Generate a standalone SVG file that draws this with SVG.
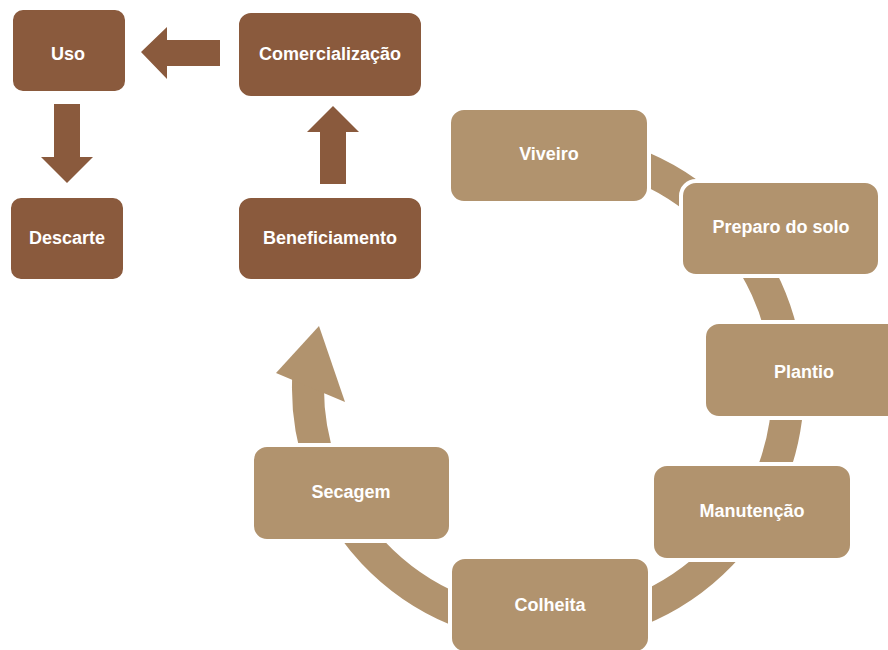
<svg xmlns="http://www.w3.org/2000/svg" width="888" height="650" viewBox="0 0 888 650">
<style>
.b{fill:#8A5A3D;stroke:#fff;stroke-width:2}
.t{fill:#B1936E;stroke:#fff;stroke-width:4}
.ba{fill:#8A5A3D}
.ta{fill:#B1936E}
text{font-family:"Liberation Sans",Arial,sans-serif;font-weight:bold;font-size:18px;fill:#fff;text-anchor:middle}
</style>
<rect width="888" height="650" fill="#fff"/>
<g id="connectors">
<path d="M527.1,148.9 A240,240 0 1 1 308.3,375.4" fill="none" stroke="#B1936E" stroke-width="32"/>
<polygon class="ta" points="276,373 319,326 345,402"/>
<polygon class="ba" points="220,40 167,40 167,27 141,52 167,79 167,66 220,66"/>
<polygon class="ba" points="54,104 80,104 80,157 93,157 67,183 41,157 54,157"/>
<polygon class="ba" points="320,184 346,184 346,132 359,132 333,106 307,132 320,132"/>
</g>
<g id="uso"><rect class="b" x="12" y="9" width="114" height="83" rx="11"/><text x="68" y="60">Uso</text></g>
<g id="comercializacao"><rect class="b" x="238" y="12" width="184" height="85" rx="13"/><text x="330" y="60">Comercialização</text></g>
<g id="descarte"><rect class="b" x="10" y="197" width="114" height="83" rx="11"/><text x="67" y="244">Descarte</text></g>
<g id="beneficiamento"><rect class="b" x="238" y="197" width="184" height="83" rx="13"/><text x="330" y="244">Beneficiamento</text></g>
<g id="viveiro"><rect class="t" x="449" y="108" width="200" height="95" rx="15"/><text x="549" y="160">Viveiro</text></g>
<g id="preparo"><rect class="t" x="681" y="181" width="199" height="95" rx="15"/><text x="781" y="233">Preparo do solo</text></g>
<g id="plantio"><rect class="t" x="704" y="322" width="200" height="96" rx="15"/><text x="804" y="378">Plantio</text></g>
<g id="manutencao"><rect class="t" x="652" y="464" width="200" height="96" rx="15"/><text x="752" y="517">Manutenção</text></g>
<g id="colheita"><rect class="t" x="450" y="557" width="200" height="96" rx="15"/><text x="550" y="611">Colheita</text></g>
<g id="secagem"><rect class="t" x="252" y="445" width="199" height="96" rx="15"/><text x="351" y="498">Secagem</text></g>
</svg>
